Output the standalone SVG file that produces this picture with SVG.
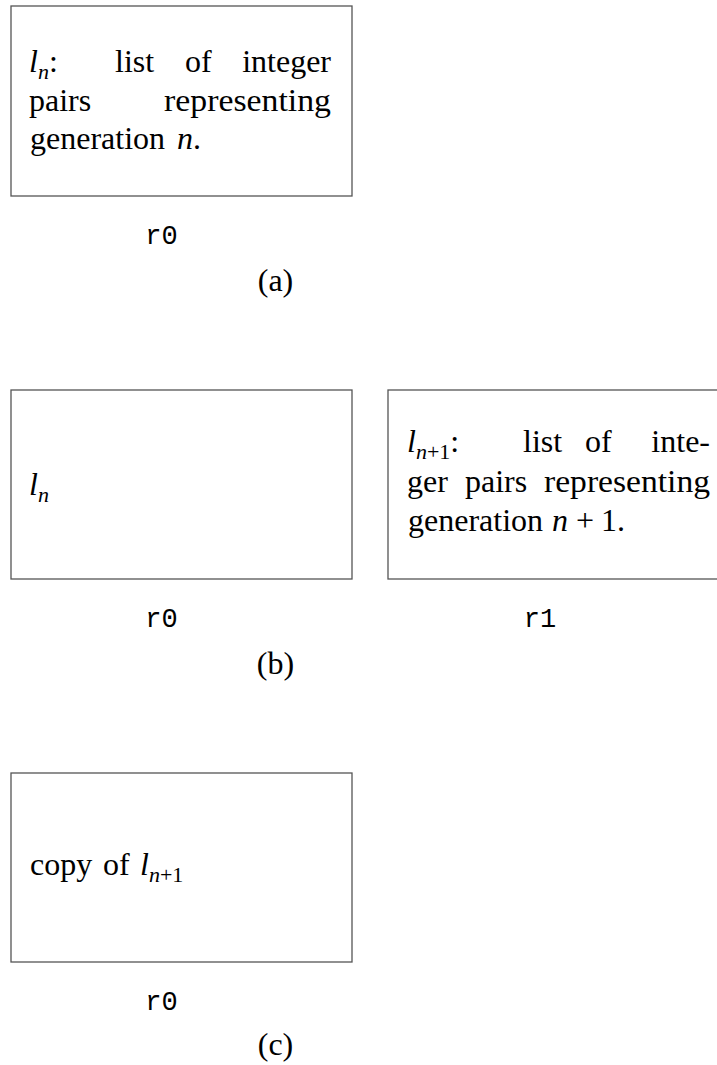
<svg xmlns="http://www.w3.org/2000/svg" width="717" height="1065" viewBox="0 0 717 1065">
<style>
.box{fill:#fff;stroke:#555;stroke-width:1.3}
.t{font-family:"Liberation Serif","Times New Roman",serif;font-size:32px;fill:#000}
.i{font-style:italic}
.s{font-size:22px}
.e{text-anchor:end}
.m{font-family:"Liberation Mono","Courier New",monospace;font-size:27px;fill:#000;text-anchor:middle}
.c{text-anchor:middle}
</style>
<rect width="717" height="1065" fill="#fff"/>
<g id="connectors"></g>

<g id="node-a-r0">
<rect class="box" x="11" y="6" width="341" height="190"/>
<text class="t" x="29" y="72"><tspan class="i">l</tspan><tspan class="i s" dy="7">n</tspan><tspan dy="-7">:</tspan></text>
<text class="t" x="115" y="72">list</text>
<text class="t" x="185" y="72">of</text>
<text class="t e" x="331" y="72">integer</text>
<text class="t" x="29" y="111">pairs</text>
<text class="t" x="164" y="111" textLength="167" lengthAdjust="spacingAndGlyphs">representing</text>
<text class="t" x="30" y="149">generation</text>
<text class="t" x="177" y="149"><tspan class="i">n</tspan>.</text>
</g>
<text class="m" x="161.5" y="244">r0</text>
<text class="t c" x="275.5" y="291">(a)</text>

<g id="node-b-r0">
<rect class="box" x="11" y="390" width="341" height="189"/>
<text class="t" x="29" y="495"><tspan class="i">l</tspan><tspan class="i s" dy="7">n</tspan></text>
</g>
<text class="m" x="161.5" y="627">r0</text>

<g id="node-b-r1">
<rect class="box" x="388" y="390" width="345" height="189"/>
<text class="t" x="407" y="452"><tspan class="i">l</tspan><tspan class="s" dy="7"><tspan class="i">n</tspan>+1</tspan><tspan dy="-7">:</tspan></text>
<text class="t" x="523" y="452">list</text>
<text class="t" x="585" y="452">of</text>
<text class="t e" x="710" y="452">inte-</text>
<text class="t" x="407" y="492">ger</text>
<text class="t" x="465" y="492">pairs</text>
<text class="t" x="544" y="492" textLength="166" lengthAdjust="spacingAndGlyphs">representing</text>
<text class="t" x="408" y="531">generation</text>
<text class="t i" x="552" y="531">n</text>
<text class="t" x="576" y="531">+</text>
<text class="t" x="601" y="531">1.</text>
</g>
<text class="m" x="540" y="627">r1</text>
<text class="t c" x="275.5" y="674">(b)</text>

<g id="node-c-r0">
<rect class="box" x="11" y="773" width="341" height="189"/>
<text class="t" x="30" y="875">copy</text>
<text class="t" x="103" y="875">of</text>
<text class="t" x="140" y="875"><tspan class="i">l</tspan><tspan class="s" dy="7"><tspan class="i">n</tspan>+1</tspan></text>
</g>
<text class="m" x="161.5" y="1010">r0</text>
<text class="t c" x="275.5" y="1055">(c)</text>
</svg>
